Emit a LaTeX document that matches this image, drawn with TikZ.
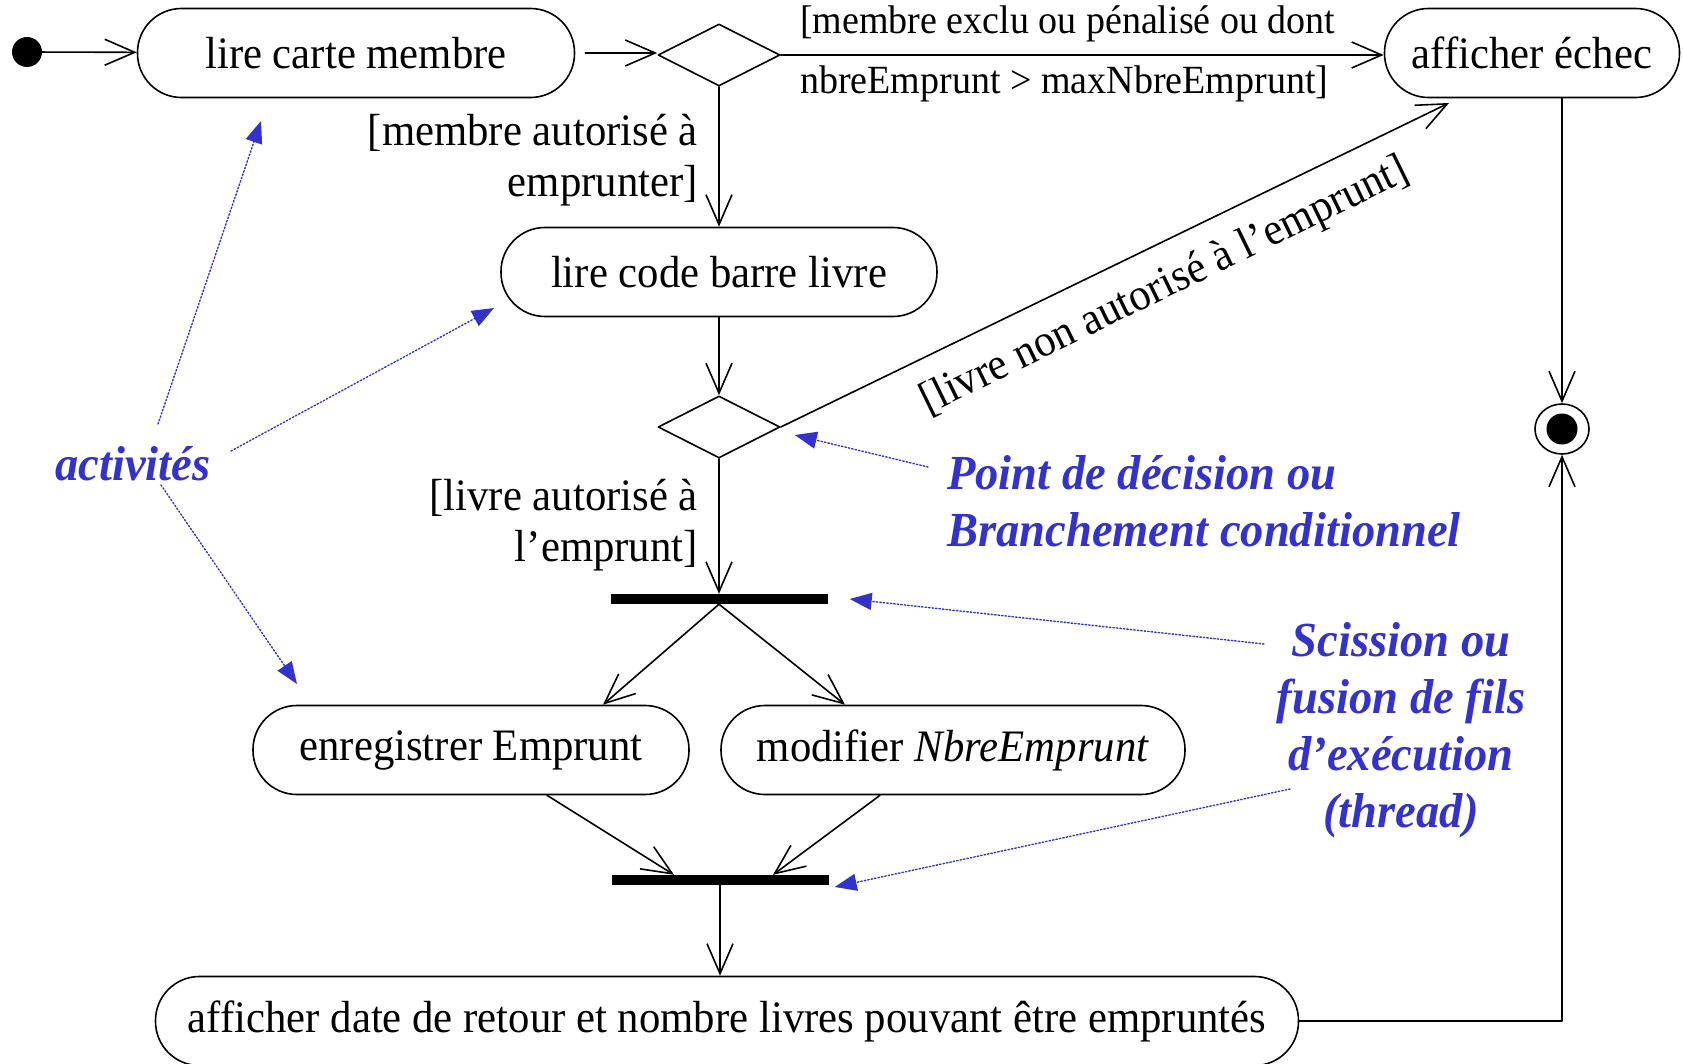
\documentclass[tikz,border=0pt]{standalone}
\usepackage{fontspec}
\setmainfont[FakeStretch=0.95]{Liberation Serif}
\usetikzlibrary{arrows.meta,shapes.geometric}
\definecolor{bleu}{RGB}{51,51,204}

\begin{document}
\begin{tikzpicture}[x=1pt, y=-1pt, line cap=round, line join=round,
  every node/.style={font=\fontsize{45}{51}\selectfont, inner sep=0pt},
  activite/.style={draw, line width=1.6pt, rounded corners=44pt, minimum height=89pt},
  choix/.style={draw, diamond, line width=1.6pt, minimum width=122pt, minimum height=62pt},
  barre/.style={fill=black, minimum width=217pt, minimum height=10pt},
  flux/.style={line width=1.6pt, -{Straight Barb[length=30pt,width=26pt,line width=1.6pt]}},
  garde/.style={align=right},
  note/.style={text=bleu, font=\fontsize{49}{57}\selectfont\bfseries\itshape},
  renvoi/.style={bleu, line width=1.4pt, dash pattern=on 1.5pt off 2pt, -{Triangle[length=22pt,width=17pt]}}]
  \useasboundingbox (0,0) rectangle (1683,1064);

  \coordinate (echecIn) at (1449,103);
  \coordinate (actA)    at (158,424);
  \coordinate (actB)    at (231,451);
  \coordinate (actC)    at (161,485);
  \coordinate (versLire)  at (261,121);
  \coordinate (versCode)  at (494,308);
  \coordinate (versEnreg) at (297,684);
  \coordinate (filsA)   at (1264,644);
  \coordinate (filsB)   at (1290,789);

  \node[circle, fill=black, minimum size=30pt] (debut) at (27,52) {};
  \node[activite, minimum width=437pt] (lire) at (356,53) {lire carte membre};
  \node[choix] (choix1) at (719,55) {};
  \node[activite, minimum width=295pt] (echec) at (1532,53) {afficher échec};
  \node[activite, minimum width=436pt] (code) at (719,272) {lire code barre livre};
  \node[choix] (choix2) at (719,427) {};
  \node[barre] (fourche) at (719,599) {};
  \node[activite, minimum width=436pt] (enreg) at (471,750) {enregistrer Emprunt};
  \node[activite, minimum width=464pt] (modif) at (953,750) {modifier \textit{NbreEmprunt}};
  \node[barre] (jonction) at (720,880) {};
  \node[activite, minimum width=1143pt] (retour) at (727,1021) {afficher date de retour et nombre livres pouvant être empruntés};
  \node[ellipse, draw, line width=1.6pt, minimum width=54pt, minimum height=50pt] (fin) at (1562,429) {};
  \node[circle, fill=black, minimum size=31pt] (finPoint) at (fin.center) {};

  \draw[flux] (debut) -- (lire);
  \draw[flux, shorten <=10pt] (lire.east) -- (lire.east -| choix1.west);
  \draw[flux] (choix1.east) -- (choix1.east -| echec.west);
  \draw[flux] (choix1.south) -- (code.north);
  \draw[flux] (code.south) -- (choix2.north);
  \draw[flux] (choix2.east) -- (echecIn);
  \draw[flux] (choix2.south) -- (choix2.south |- fourche.north);
  \draw[flux] (fourche.south) -- ([xshift=132pt]enreg.north);
  \draw[flux] (fourche.south) -- ([xshift=-108pt]modif.north);
  \draw[flux] ([xshift=76pt]enreg.south) -- ([xshift=-46pt]jonction.north);
  \draw[flux] ([xshift=-73pt]modif.south) -- ([xshift=53pt]jonction.north);
  \draw[flux] (jonction.south) -- (jonction.south |- retour.north);
  \draw[flux] (echec.south -| fin.north) -- (fin.north);
  \draw[flux] (retour.east) -| (fin.south);

  \node[font=\fontsize{40}{44}\selectfont, anchor=west] (gardeExclu) at (800,24) {[membre exclu ou pénalisé ou dont};
  \node[font=\fontsize{40}{44}\selectfont, anchor=west] (gardeMax) at (800,84) {nbreEmprunt > maxNbreEmprunt]};
  \node[garde, anchor=east] (gardeMembre) at (698,160) {[membre autorisé à\\emprunter]};
  \node[garde, anchor=east] (gardeLivre) at (698,525) {[livre autorisé à\\l’emprunt]};
  \node[rotate=26] (gardeRefus) at (1165,287) {[livre non autorisé à l’emprunt]};

  \node[note] (noteActivites) at (133,464) {activités};
  \node[note, align=left, anchor=west] (noteDecision) at (947,501) {Point de décision ou\\Branchement conditionnel};
  \node[note, align=center] (noteFils) at (1401,730) {Scission ou\\fusion de fils\\d’exécution\\(thread)};

  \draw[renvoi] (actA) -- (versLire);
  \draw[renvoi] (actB) -- (versCode);
  \draw[renvoi] (actC) -- (versEnreg);
  \draw[renvoi] ([shift={(-19,-34)}]noteDecision.west) -- ([shift={(14,8)}]choix2.east);
  \draw[renvoi] (filsA) -- ([xshift=22pt]fourche.east);
  \draw[renvoi] (filsB) -- ([shift={(6,7)}]jonction.east);
\end{tikzpicture}
\end{document}
